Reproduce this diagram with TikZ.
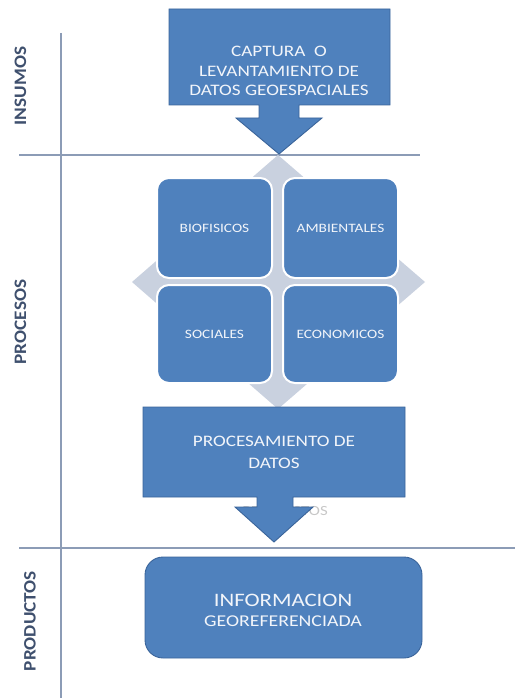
\documentclass[tikz,border=0pt]{standalone}
\usepackage{fontspec}
\setmainfont{Carlito}
\newfontfamily\cf[FakeStretch=1.2]{Carlito}
\newfontfamily\cfl[FakeStretch=1.1]{Carlito}
\definecolor{boxblue}{HTML}{4F81BD}
\definecolor{boxedge}{HTML}{3A649A}
\definecolor{diam}{HTML}{C9D1DF}
\definecolor{sepline}{HTML}{8C9CB6}
\definecolor{lbl}{HTML}{3F506E}
\definecolor{txt}{HTML}{F2F5FA}
\tikzset{
  sep/.style={draw=sepline, line width=1.6pt},
  lane/.style={rotate=90, font=\cfl\bfseries\fontsize{17.5}{20}\selectfont, text=lbl, inner sep=0pt},
  callout/.style={fill=boxblue, draw=boxedge, line width=0.9pt, line join=miter},
  smallbox/.style={draw=white, line width=2pt, fill=boxblue, rounded corners=12pt},
  smalltxt/.style={font=\cf\fontsize{12.8}{15}\selectfont, text=txt, inner sep=0pt},
  bigtxt/.style={font=\cf\fontsize{16}{19.5}\selectfont, text=txt, align=center, inner sep=0pt},
  prodbox/.style={fill=boxblue, draw=boxedge, line width=0.9pt, rounded corners=18pt},
}
\begin{document}
\begin{tikzpicture}[x=1pt,y=-1pt]
\useasboundingbox (0,0) rectangle (515,698);
% separators
\draw[sep] (61,33) -- (61,698);
\draw[sep] (19,155) -- (420,155);
\draw[sep] (19,548) -- (515,548);
% lane labels
\node[lane] (insumos) at (20.5,86) {INSUMOS};
\node[lane] (procesos) at (20.5,322) {PROCESOS};
\node[lane] (productos) at (30,621) {PRODUCTOS};
% diamond
\fill[diam] (278,155) -- (425,282) -- (278,409) -- (132,282) -- cycle;
% four boxes
\draw[smallbox] (157,178) rectangle (272,278);
\draw[smallbox] (283,178) rectangle (398,278);
\draw[smallbox] (157,285) rectangle (272,383);
\draw[smallbox] (283,285) rectangle (398,383);
\node[smalltxt] (bio) at (214.5,228) {BIOFISICOS};
\node[smalltxt] (amb) at (340.5,228) {AMBIENTALES};
\node[smalltxt] (soc) at (214.5,334) {SOCIALES};
\node[smalltxt] (eco) at (340.5,334) {ECONOMICOS};
% ghost text behind lower arrow
\node[font=\cf\fontsize{14}{16}\selectfont, text=black!22, inner sep=0pt] (ghost) at (285,511) {PRODUCTOS};
% top callout
\draw[callout] (169,9) -- (390,9) -- (390,105) -- (299,105) -- (299,118) -- (322,118)
  -- (279,154) -- (236,118) -- (259,118) -- (259,105) -- (169,105) -- cycle;
\node[bigtxt] (captura) at (279,71) {CAPTURA~~O\\LEVANTAMIENTO DE\\DATOS GEOESPACIALES};
% lower callout
\draw[callout] (143,407) -- (405,407) -- (405,497) -- (293,497) -- (293,507) -- (313,507)
  -- (274,542) -- (235,507) -- (257,507) -- (257,497) -- (143,497) -- cycle;
\node[bigtxt, font=\cf\fontsize{16}{22}\selectfont] (proc) at (274,452) {PROCESAMIENTO DE\\DATOS};
% product box
\draw[prodbox] (145,557) rectangle (422,658);
\node[bigtxt] (info) at (283,610.5) {{\fontsize{19}{23}\selectfont INFORMACION}\\{\fontsize{16.5}{23}\selectfont GEOREFERENCIADA}};
\end{tikzpicture}
\end{document}
